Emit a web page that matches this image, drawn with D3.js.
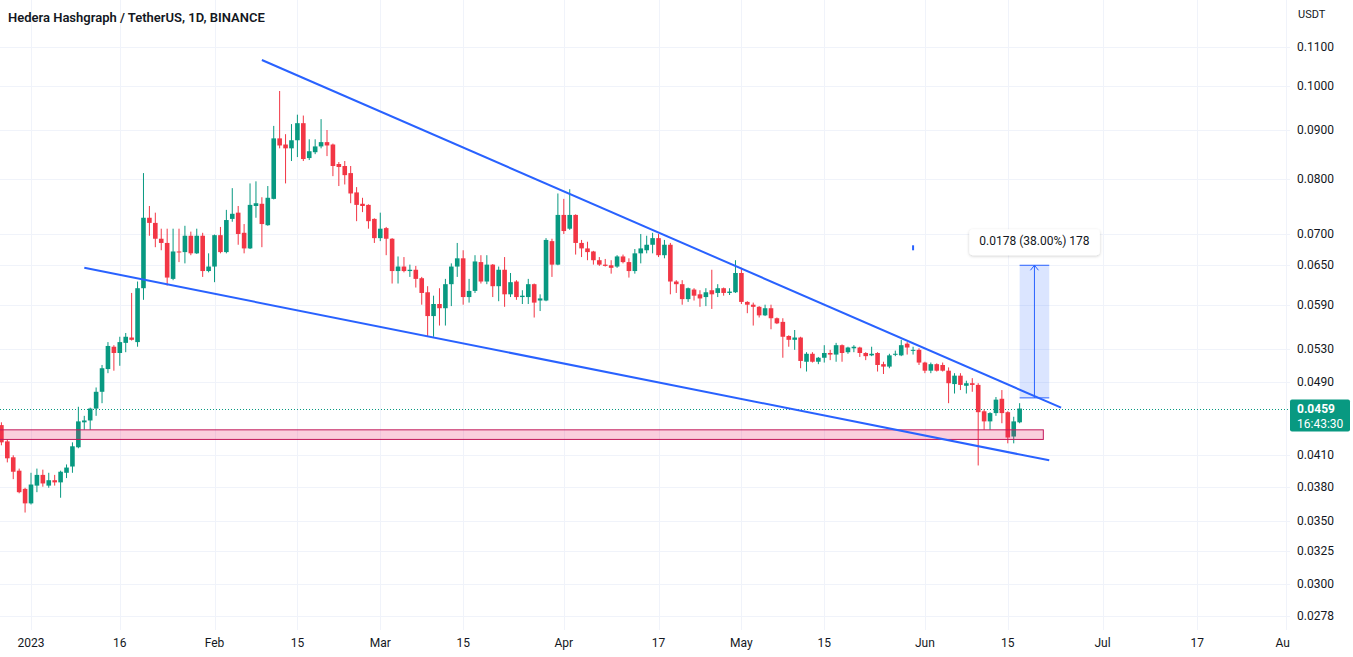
<!DOCTYPE html>
<html>
<head>
<meta charset="utf-8">
<script src="https://cdn.jsdelivr.net/npm/d3@7"></script>
<style>
  html, body { margin: 0; padding: 0; background: #fff; }
  svg { display: block; font-family: Roboto, "Liberation Sans", sans-serif; }
</style>
</head>
<body>
<svg id="chart" width="1353" height="657"></svg>
<script>
// daily HBAR/USDT candles, first one on Dec 27 2022
var firstDay = '2022-12-27';
var opens = [
  .0441, .0424, .0408, .0395, .0378, .0365, .0381, .0391, .0381, .0386,
  .0384, .0393, .0399, .0418, .0444, .0446, .0459, .0478, .0505, .0533,
  .0525, .0538, .0545, .0539, .0614, .0728, .0719, .0692, .0685, .0628,
  .0671, .0670, .0697, .0668, .0697, .0640, .0647, .0698, .0670, .0726,
  .0737, .0702, .0676, .0749, .0753, .0715, .0762, .0882, .0869, .0861,
  .0878, .0915, .0841, .0853, .0865, .0874, .0869, .0829, .0825, .0811,
  .0774, .0753, .0751, .0726, .0693, .0710, .0692, .0640, .0647, .0640,
  .0642, .0629, .0608, .0574, .0591, .0585, .0620, .0647, .0660, .0601,
  .0610, .0654, .0624, .0650, .0617, .0642, .0605, .0624, .0601, .0601,
  .0620, .0596, .0596, .0688, .0650, .0733, .0709, .0733, .0685, .0676,
  .0671, .0657, .0650, .0649, .0647, .0663, .0654, .0640, .0668, .0673,
  .0682, .0693, .0665, .0682, .0624, .0620, .0598, .0612, .0605, .0601,
  .0611, .0607, .0614, .0607, .0608, .0637, .0594, .0590, .0587, .0575,
  .0585, .0571, .0566, .0547, .0542, .0545, .0514, .0524, .0514, .0519,
  .0525, .0523, .0535, .0526, .0531, .0532, .0525, .0522, .0525, .0511,
  .0508, .0523, .0522, .0537, .0528, .0529, .0513, .0503, .0511, .0510,
  .0503, .0487, .0497, .0485, .0488, .0486, .0456, .0445, .0454, .0470,
  .0455, .0429, .0444
];
var highs = [
  .0444, .0426, .0410, .0397, .0379, .0393, .0397, .0396, .0393, .0391,
  .0395, .0401, .0423, .0461, .0451, .0460, .0483, .0510, .0539, .0535,
  .0546, .0551, .0607, .0624, .0811, .0749, .0737, .0709, .0709, .0709,
  .0709, .0714, .0704, .0709, .0702, .0668, .0699, .0712, .0742, .0782,
  .0749, .0717, .0791, .0795, .0765, .0786, .0909, .0989, .0891, .0913,
  .0934, .0932, .0880, .0880, .0924, .0900, .0871, .0833, .0835, .0825,
  .0784, .0764, .0752, .0727, .0737, .0712, .0693, .0663, .0662, .0650,
  .0648, .0631, .0617, .0603, .0614, .0628, .0652, .0685, .0673, .0628,
  .0665, .0665, .0665, .0651, .0647, .0662, .0637, .0626, .0611, .0628,
  .0621, .0605, .0693, .0692, .0772, .0762, .0780, .0734, .0690, .0687,
  .0672, .0662, .0659, .0657, .0665, .0666, .0660, .0675, .0700, .0697,
  .0702, .0700, .0690, .0685, .0626, .0626, .0615, .0614, .0611, .0614,
  .0642, .0620, .0615, .0614, .0657, .0645, .0595, .0593, .0588, .0590,
  .0590, .0572, .0571, .0548, .0555, .0546, .0526, .0526, .0520, .0535,
  .0529, .0538, .0536, .0533, .0535, .0533, .0526, .0533, .0526, .0514,
  .0524, .0528, .0542, .0539, .0533, .0531, .0514, .0513, .0512, .0513,
  .0507, .0500, .0500, .0491, .0494, .0488, .0458, .0455, .0472, .0480,
  .0456, .0450, .0465
];
var lows = [
  .0420, .0403, .0387, .0374, .0357, .0364, .0375, .0380, .0379, .0381,
  .0370, .0388, .0393, .0417, .0436, .0436, .0451, .0465, .0500, .0503,
  .0509, .0526, .0541, .0533, .0597, .0697, .0678, .0673, .0618, .0626,
  .0654, .0652, .0665, .0667, .0631, .0638, .0623, .0668, .0668, .0721,
  .0682, .0668, .0675, .0728, .0678, .0714, .0761, .0861, .0791, .0835,
  .0843, .0835, .0837, .0849, .0861, .0845, .0805, .0786, .0789, .0754,
  .0722, .0738, .0709, .0685, .0688, .0665, .0621, .0621, .0638, .0631,
  .0615, .0590, .0547, .0546, .0561, .0561, .0588, .0631, .0590, .0593,
  .0607, .0621, .0620, .0601, .0595, .0587, .0601, .0597, .0591, .0591,
  .0572, .0581, .0595, .0631, .0649, .0700, .0707, .0666, .0662, .0657,
  .0650, .0648, .0647, .0636, .0645, .0652, .0630, .0636, .0652, .0668,
  .0668, .0662, .0660, .0605, .0607, .0590, .0594, .0596, .0587, .0588,
  .0584, .0601, .0603, .0604, .0607, .0591, .0578, .0561, .0572, .0574,
  .0556, .0563, .0519, .0533, .0529, .0506, .0502, .0513, .0511, .0513,
  .0516, .0514, .0514, .0524, .0526, .0520, .0516, .0521, .0502, .0499,
  .0506, .0521, .0521, .0523, .0523, .0510, .0500, .0500, .0502, .0502,
  .0465, .0476, .0480, .0476, .0478, .0400, .0436, .0436, .0451, .0443,
  .0422, .0422, .0443
];
var closes = [
  .0423, .0407, .0394, .0375, .0365, .0382, .0391, .0383, .0386, .0384,
  .0394, .0398, .0419, .0445, .0446, .0459, .0478, .0506, .0534, .0525,
  .0539, .0546, .0542, .0614, .0728, .0719, .0692, .0685, .0630, .0671,
  .0670, .0697, .0668, .0697, .0640, .0647, .0698, .0670, .0724, .0735,
  .0700, .0676, .0751, .0754, .0717, .0764, .0882, .0867, .0861, .0878,
  .0915, .0839, .0855, .0865, .0874, .0867, .0825, .0823, .0807, .0772,
  .0751, .0749, .0722, .0693, .0709, .0692, .0640, .0647, .0640, .0642,
  .0628, .0607, .0574, .0591, .0585, .0620, .0647, .0660, .0601, .0610,
  .0655, .0624, .0650, .0617, .0642, .0605, .0623, .0601, .0603, .0620,
  .0593, .0599, .0690, .0650, .0733, .0705, .0733, .0685, .0676, .0670,
  .0657, .0650, .0648, .0645, .0663, .0654, .0640, .0668, .0676, .0682,
  .0693, .0665, .0682, .0624, .0620, .0598, .0614, .0603, .0599, .0608,
  .0605, .0614, .0607, .0609, .0637, .0594, .0590, .0587, .0575, .0585,
  .0571, .0564, .0546, .0542, .0545, .0515, .0524, .0514, .0519, .0525,
  .0523, .0535, .0525, .0532, .0533, .0525, .0521, .0524, .0510, .0508,
  .0522, .0524, .0535, .0532, .0529, .0513, .0503, .0511, .0503, .0503,
  .0488, .0497, .0486, .0488, .0486, .0455, .0445, .0454, .0469, .0454,
  .0428, .0445, .0459
];

var priceTicks = [0.11, 0.10, 0.09, 0.08, 0.07, 0.065, 0.059, 0.053, 0.049, 0.041, 0.038, 0.035, 0.0325, 0.03, 0.0278];
var timeTickDates = ['2023-01-01', '2023-01-16', '2023-02-01', '2023-02-15', '2023-03-01', '2023-03-15', '2023-04-01',
  '2023-04-17', '2023-05-01', '2023-05-15', '2023-06-01', '2023-06-15', '2023-07-01', '2023-07-17', '2023-08-01'];
var timeTickLabels = ['2023', '16', 'Feb', '15', 'Mar', '15', 'Apr', '17', 'May', '15', 'Jun', '15', 'Jul', '17', 'Aug'];

// drawings
var upperDates = ['2023-02-09', '2023-06-24'];
var upperPrices = [0.1066, 0.0460];
var lowerDates = ['2023-01-10', '2023-06-22'];
var lowerPrices = [0.0645, 0.0405];
var zoneDates = ['2022-12-20', '2023-06-21'];
var zonePrices = [0.0436, 0.0426];
var measureDates = ['2023-06-17', '2023-06-22'];
var measurePrices = [0.0471, 0.0649];
var measureText = '0.0178 (38.00%) 178';
var markDates = ['2023-05-30'];
var markPrices = [0.0677];

var title = 'Hedera Hashgraph / TetherUS, 1D, BINANCE';
var lastPrice = 0.0459;
var countdown = '16:43:30';

var W = 1353, H = 657, paneW = 1290, paneH = 630;
var green = '#089981', red = '#f23645', blue = '#2962ff', text = '#131722';

var parse = d3.utcParse('%Y-%m-%d');
var x = d3.scaleUtc()
  .domain([parse('2023-01-01'), parse('2023-08-01')])
  .range([31, 31 + 5.92 * 212]);
var y = d3.scaleLog()
  .domain([0.11, 0.0278])
  .range([47, 616]);

var start = parse(firstDay);
var candles = closes.map(function(c, i) {
  return { date: d3.utcDay.offset(start, i), o: opens[i], h: highs[i], l: lows[i], c: c };
});

var svg = d3.select('#chart');
svg.append('rect').attr('width', W).attr('height', H).attr('fill', '#fff');

svg.append('clipPath').attr('id', 'pane')
  .append('rect').attr('width', paneW).attr('height', paneH);

var pane = svg.append('g').attr('clip-path', 'url(#pane)');

// grid
pane.selectAll('line.hgrid').data(priceTicks).enter().append('line')
  .attr('x1', 0).attr('x2', paneW)
  .attr('y1', function(d) { return Math.round(y(d)) + 0.5; })
  .attr('y2', function(d) { return Math.round(y(d)) + 0.5; })
  .attr('stroke', '#f0f3fa');
pane.selectAll('line.vgrid').data(timeTickDates).enter().append('line')
  .attr('y1', 0).attr('y2', paneH)
  .attr('x1', function(d) { return Math.round(x(parse(d))) + 0.5; })
  .attr('x2', function(d) { return Math.round(x(parse(d))) + 0.5; })
  .attr('stroke', '#f0f3fa');

// last price dotted line
pane.append('line')
  .attr('x1', 0).attr('x2', paneW)
  .attr('y1', Math.round(y(lastPrice)) + 0.5).attr('y2', Math.round(y(lastPrice)) + 0.5)
  .attr('stroke', green).attr('stroke-dasharray', '1,2');

// candles
var bodyW = 4.6;
var g = pane.selectAll('g.candle').data(candles).enter().append('g');
g.append('line')
  .attr('x1', function(d) { return x(d.date); })
  .attr('x2', function(d) { return x(d.date); })
  .attr('y1', function(d) { return y(d.h); })
  .attr('y2', function(d) { return y(d.l); })
  .attr('stroke', function(d) { return d.c >= d.o ? green : red; })
  .attr('stroke-width', 1);
g.append('rect')
  .attr('x', function(d) { return x(d.date) - bodyW / 2; })
  .attr('width', bodyW)
  .attr('y', function(d) { return y(Math.max(d.o, d.c)); })
  .attr('height', function(d) { return Math.max(1, Math.abs(y(d.o) - y(d.c))); })
  .attr('fill', function(d) { return d.c >= d.o ? green : red; });

// support zone
pane.append('rect')
  .attr('x', x(parse(zoneDates[0])))
  .attr('y', y(zonePrices[0]))
  .attr('width', x(parse(zoneDates[1])) - x(parse(zoneDates[0])))
  .attr('height', y(zonePrices[1]) - y(zonePrices[0]))
  .attr('fill', 'rgba(233,30,99,0.22)')
  .attr('stroke', '#c2185b').attr('stroke-width', 1);

// wedge lines
var line = d3.line()
  .x(function(d) { return x(parse(d[0])); })
  .y(function(d) { return y(d[1]); });
pane.append('path').datum(d3.zip(upperDates, upperPrices))
  .attr('d', line).attr('fill', 'none').attr('stroke', blue).attr('stroke-width', 2);
pane.append('path').datum(d3.zip(lowerDates, lowerPrices))
  .attr('d', line).attr('fill', 'none').attr('stroke', blue).attr('stroke-width', 2);

// small marker
pane.selectAll('rect.mark').data(d3.zip(markDates, markPrices)).enter().append('rect')
  .attr('x', function(d) { return x(parse(d[0])) - 1; })
  .attr('y', function(d) { return y(d[1]) - 2.5; })
  .attr('width', 2).attr('height', 5)
  .attr('fill', blue);

// price range measure
var mx0 = x(parse(measureDates[0])), mx1 = x(parse(measureDates[1]));
var my0 = y(measurePrices[0]), my1 = y(measurePrices[1]);
var mcx = (mx0 + mx1) / 2;
pane.append('rect')
  .attr('x', mx0).attr('y', my1).attr('width', mx1 - mx0).attr('height', my0 - my1)
  .attr('fill', 'rgba(41,98,255,0.17)');
pane.append('line').attr('x1', mx0).attr('x2', mx1).attr('y1', my0).attr('y2', my0)
  .attr('stroke', blue).attr('stroke-width', 1);
pane.append('line').attr('x1', mx0).attr('x2', mx1).attr('y1', my1).attr('y2', my1)
  .attr('stroke', blue).attr('stroke-width', 1);
pane.append('line').attr('x1', mcx).attr('x2', mcx).attr('y1', my0).attr('y2', my1)
  .attr('stroke', blue).attr('stroke-width', 1);
pane.append('path')
  .attr('d', 'M' + (mcx - 4) + ',' + (my1 + 5) + 'L' + mcx + ',' + my1 + 'L' + (mcx + 4) + ',' + (my1 + 5))
  .attr('fill', 'none').attr('stroke', blue).attr('stroke-width', 1);

var defs = svg.append('defs');
var shadow = defs.append('filter').attr('id', 'shadow')
  .attr('x', '-20%').attr('y', '-40%').attr('width', '140%').attr('height', '180%');
shadow.append('feDropShadow').attr('dx', 0).attr('dy', 1).attr('stdDeviation', 1.5)
  .attr('flood-color', '#000').attr('flood-opacity', 0.2);

var label = pane.append('g');
var labelBox = label.append('rect').attr('fill', '#fff').attr('rx', 4).attr('filter', 'url(#shadow)');
var labelText = label.append('text')
  .attr('x', mcx).attr('y', my1 - 20)
  .attr('text-anchor', 'middle')
  .attr('font-size', 12).attr('fill', text)
  .text(measureText);
var bb = labelText.node().getBBox();
labelBox.attr('x', bb.x - 10).attr('y', my1 - 36).attr('width', bb.width + 20).attr('height', 26);

// title
svg.append('text')
  .attr('x', 8).attr('y', 22)
  .attr('font-size', 13).attr('font-weight', 600).attr('fill', text)
  .text(title);

// price scale
svg.append('rect').attr('x', paneW).attr('y', 0).attr('width', W - paneW).attr('height', H).attr('fill', '#fff');
svg.append('text').attr('x', 1298).attr('y', 18).attr('font-size', 11).attr('fill', text).text('USDT');
svg.selectAll('text.price').data(priceTicks).enter().append('text')
  .attr('x', 1297)
  .attr('y', function(d) { return y(d) + 4; })
  .attr('font-size', 12).attr('fill', text)
  .text(function(d) { return d.toFixed(4); });

var ly = y(lastPrice);
svg.append('rect')
  .attr('x', paneW).attr('y', ly - 9).attr('width', 60).attr('height', 32)
  .attr('rx', 2).attr('fill', green);
svg.append('text').attr('x', 1297).attr('y', ly + 4)
  .attr('font-size', 12).attr('font-weight', 700).attr('fill', '#fff')
  .text(lastPrice.toFixed(4));
svg.append('text').attr('x', 1297).attr('y', ly + 19)
  .attr('font-size', 12).attr('fill', '#fff')
  .text(countdown);

// time scale
svg.selectAll('text.time').data(d3.zip(timeTickDates, timeTickLabels)).enter().append('text')
  .attr('x', function(d) { return x(parse(d[0])); })
  .attr('y', 647)
  .attr('text-anchor', 'middle')
  .attr('font-size', 12).attr('fill', text)
  .text(function(d) { return d[1]; });
// price scale covers the clipped tail of the last time label
svg.append('rect').attr('x', paneW).attr('y', paneH).attr('width', W - paneW).attr('height', H - paneH).attr('fill', '#fff');
</script>
</body>
</html>
